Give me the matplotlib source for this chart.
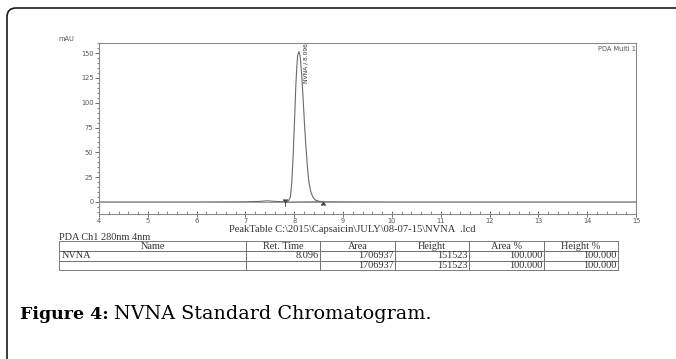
import numpy as np
import matplotlib
matplotlib.use('Agg')
import matplotlib.pyplot as plt
import matplotlib.patches as mpatches
from matplotlib.ticker import MultipleLocator

# chromatogram (retention time in min, signal in mAU)
rt = [4.0, 6.0, 7.0, 7.3, 7.44, 7.6, 7.8, 7.88, 7.92, 7.95, 7.98, 8.01, 8.03,
      8.05, 8.07, 8.096, 8.12, 8.15, 8.18, 8.21, 8.24, 8.27, 8.30, 8.34, 8.38,
      8.43, 8.50, 8.60, 10.0, 15.0]
mau = [0.0, 0.0, 0.2, 0.6, 1.2, 0.6, 0.2, 1.0, 5.0, 20.0, 50.0, 88.0, 115.0,
       135.0, 148.0, 151.5, 147.0, 130.0, 105.0, 78.0, 55.0, 35.0, 20.0, 10.0,
       5.0, 2.0, 0.8, 0.2, 0.0, 0.0]
peak_start = (7.81, 0.0)
peak_end = (8.58, 0.4)
peak_label = 'NVNA / 8.096'

# peak table
col_names = ['Name', 'Ret. Time', 'Area', 'Height', 'Area %', 'Height %']
row_1 = ['NVNA', '8.096', '1706937', '151523', '100.000', '100.000']
row_total = ['', '', '1706937', '151523', '100.000', '100.000']

W, H = 676, 359
fig = plt.figure(figsize=(W / 100, H / 100), dpi=100)
fig.patch.set_facecolor('white')

# rounded frame of the figure box (cut off right and bottom)
frame = mpatches.FancyBboxPatch((7, -30), 760, H - 8 + 30,
                                boxstyle='round,pad=0,rounding_size=9',
                                transform=None, fill=False, ec='#1a1a1a',
                                lw=1.2, clip_on=False)
fig.patches.append(frame)

gray = '#555555'
ax = fig.add_axes([99 / W, 1 - 214 / H, 537 / W, 171 / H])
ax.plot(rt, mau, color='#6a6a6a', lw=0.8)
ax.axhline(0, color='#9a9a9a', lw=0.7)
ax.plot([peak_start[0], peak_end[0]], [peak_start[1], peak_end[1]],
        color='#6a6a6a', lw=0.6)
ax.plot(*peak_start, marker=7, ms=3, color='#444444')
ax.plot([peak_start[0]] * 2, [0, -4], color='#444444', lw=0.6)
ax.plot(*peak_end, marker=6, ms=3, color='#444444')
ax.text(8.25, 159.5, peak_label, rotation=90, va='top', ha='center',
        fontsize=4.3, color='#333333')

ax.set_xlim(4, 15)
ax.set_ylim(-12.1, 160.1)
ax.xaxis.set_major_locator(MultipleLocator(1))
ax.xaxis.set_minor_locator(MultipleLocator(0.2))
ax.yaxis.set_major_locator(MultipleLocator(25))
ax.yaxis.set_minor_locator(MultipleLocator(5))
ax.tick_params(axis='x', which='major', direction='inout', length=4, width=0.6,
               pad=1, labelsize=4.8, colors=gray)
ax.tick_params(axis='x', which='minor', direction='in', length=2, width=0.5,
               colors=gray)
ax.tick_params(axis='y', which='major', direction='out', length=3, width=0.6,
               pad=1, labelsize=4.8, colors=gray)
ax.tick_params(axis='y', which='minor', direction='out', length=1.5, width=0.5,
               colors=gray)
for s in ax.spines.values():
    s.set_color('#8a8a8a')
    s.set_linewidth(0.8)

fig.text(58 / W, 1 - 39 / H, 'mAU', fontsize=4.8, color=gray, va='center')
ax.text(0.999, 0.985, 'PDA Multi 1', transform=ax.transAxes, ha='right',
        va='top', fontsize=4.8, color=gray)

serif = ['Liberation Serif', 'DejaVu Serif']
fig.text(352 / W, 1 - 229.5 / H,
         'PeakTable C:\\2015\\Capsaicin\\JULY\\08-07-15\\NVNA  .lcd',
         ha='center', va='center', fontsize=7.6, family=serif, color='#333333')
fig.text(59 / W, 1 - 237 / H, 'PDA Ch1 280nm 4nm', ha='left', va='center',
         fontsize=7.4, family=serif, color='#333333')

# table
tax = fig.add_axes([59 / W, 1 - 270 / H, 559 / W, 28.5 / H])
tax.axis('off')
widths = np.array([187, 74, 75, 74, 75, 74]) / 559
tbl = tax.table(cellText=[row_1, row_total], colLabels=col_names,
                colWidths=widths, bbox=[0, 0, 1, 1], cellLoc='right')
tbl.auto_set_font_size(False)
for (r, c), cell in tbl.get_celld().items():
    cell.set_edgecolor('#666666')
    cell.set_linewidth(0.6)
    cell.PAD = 0.015
    t = cell.get_text()
    t.set_fontsize(7.4)
    t.set_family(serif)
    t.set_color('#333333')
    if r == 0:
        t.set_ha('center')
    elif c == 0:
        t.set_ha('left')

# caption: bold label followed by plain text
cap = ['DejaVu Serif', 'Liberation Serif']
t1 = fig.text(20 / W, 1 - 319 / H, 'Figure 4:', fontsize=12.5,
              fontweight='bold', family=cap, va='baseline', ha='left')
fig.canvas.draw()
bb = t1.get_window_extent()
fig.text((bb.x1 + 5) / W, 1 - 319 / H, 'NVNA Standard Chromatogram.',
         fontsize=13.8, family=cap, va='baseline', ha='left')

fig.savefig('out.png', dpi=100)
